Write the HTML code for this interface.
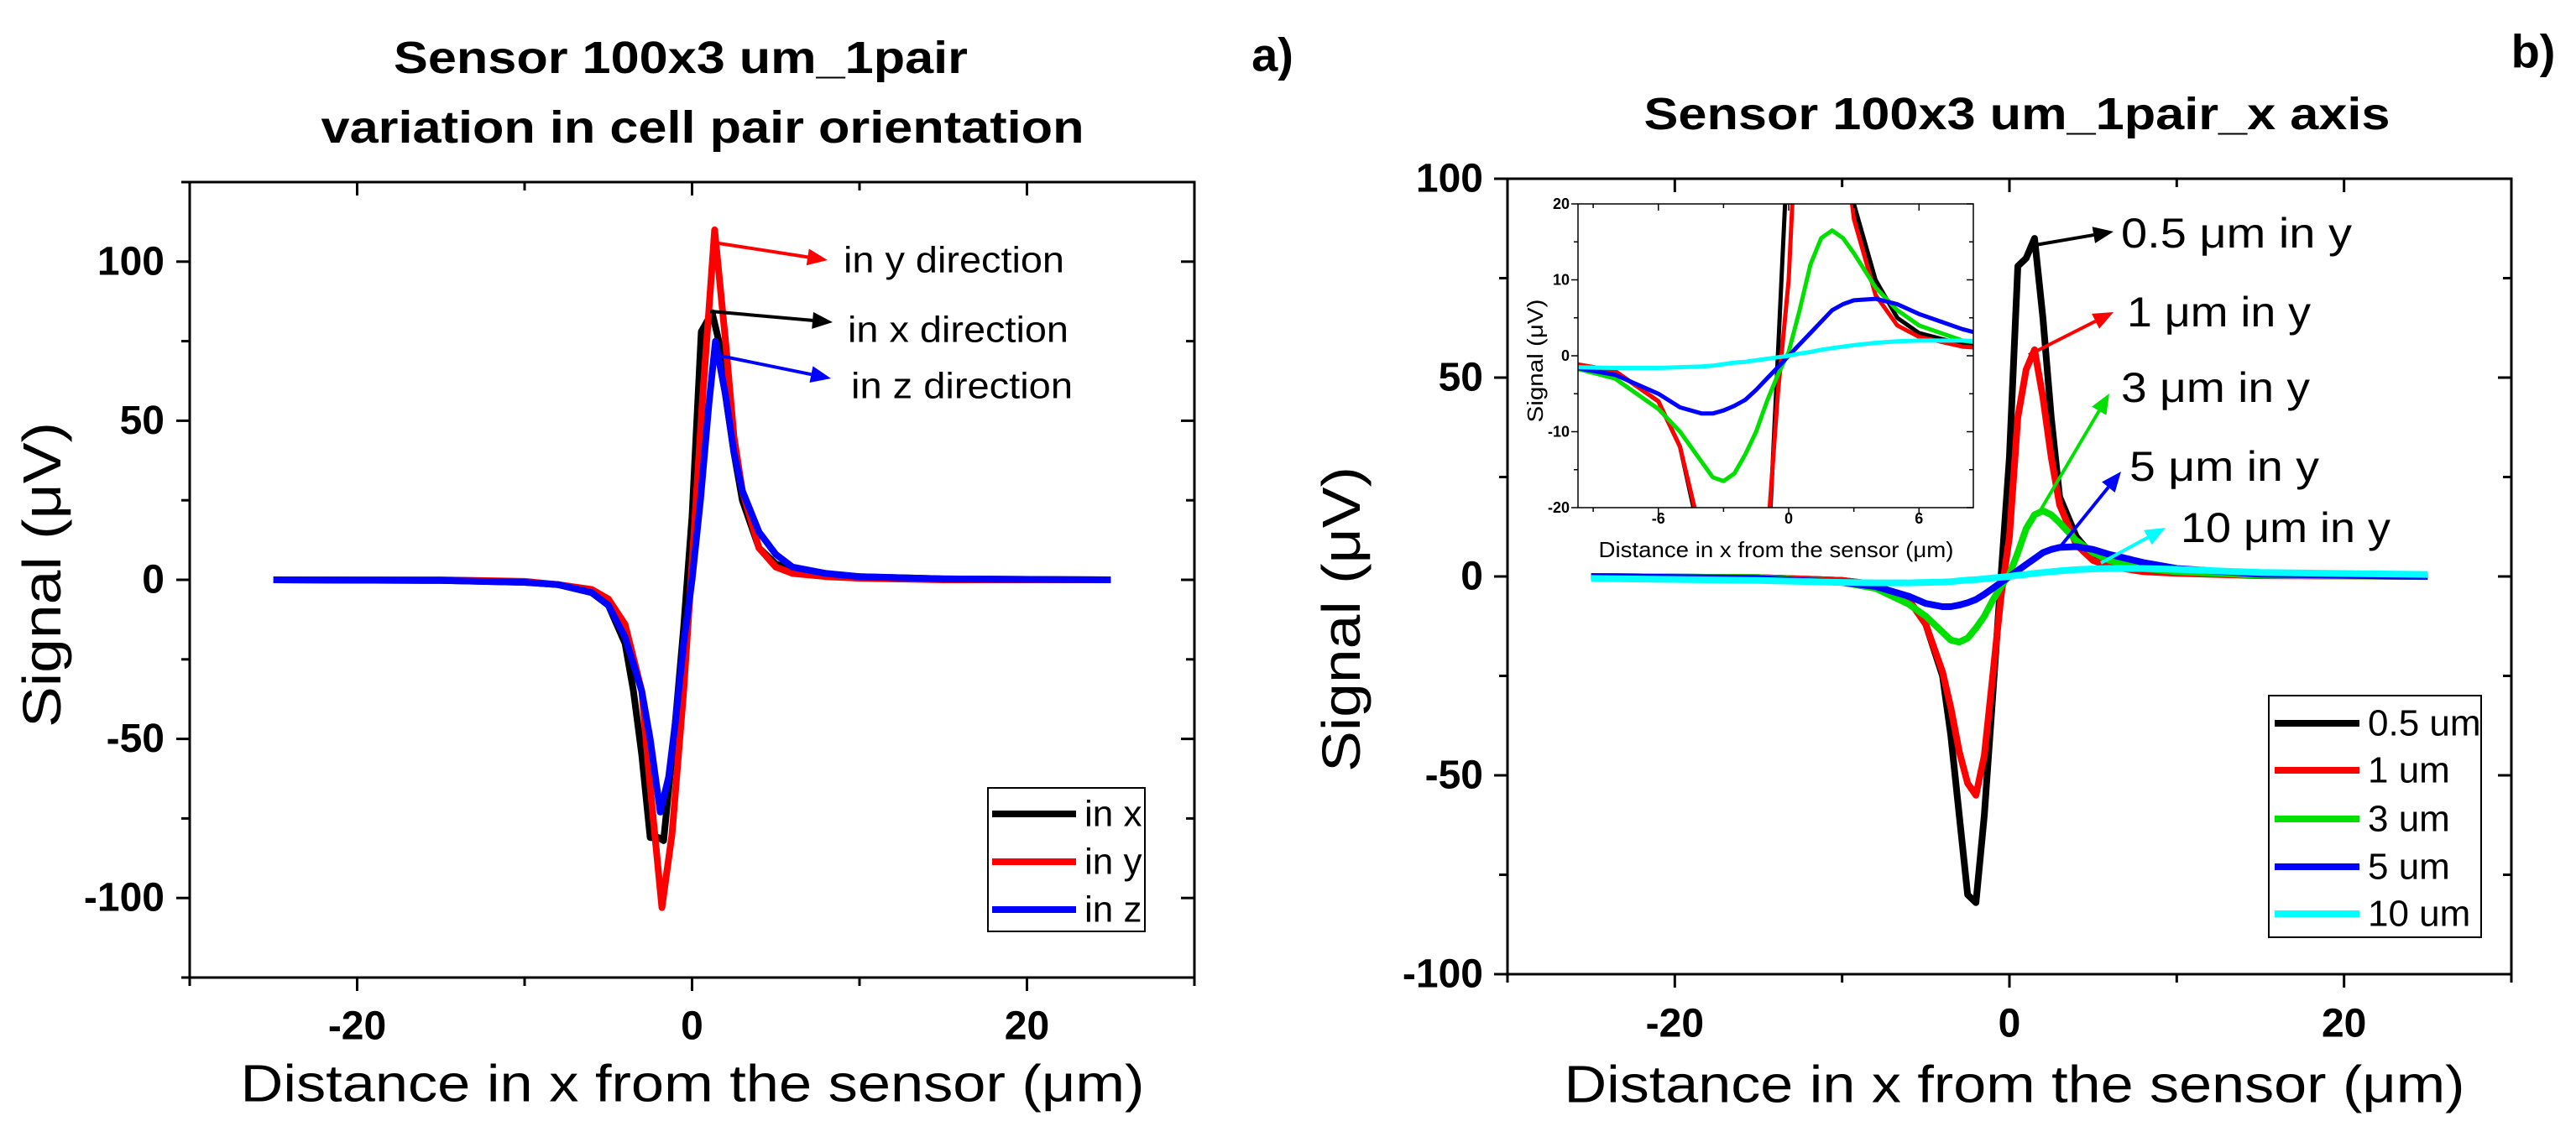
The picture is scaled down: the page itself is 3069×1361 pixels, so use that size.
<!DOCTYPE html>
<html><head><meta charset="utf-8"><style>
html,body{margin:0;padding:0;background:#fff}
svg{display:block}
text{font-family:"Liberation Sans",Arial,sans-serif}
</style></head><body>
<svg id="fig" width="3069" height="1361" viewBox="0 0 3069 1361" xmlns="http://www.w3.org/2000/svg">
<defs>
<clipPath id="clipA"><rect x="226" y="217" width="1197" height="948"/></clipPath>
<clipPath id="clipB"><rect x="1796" y="213" width="1196" height="948"/></clipPath>
<clipPath id="clipI"><rect x="1880" y="243" width="471" height="362"/></clipPath>
</defs>
<g id="panelA"></g>
<g id="panelB"></g>
<g id="inset"></g>
</svg>
<script>
// ---- Panel a data ----
const aX_inx = [-25,-15,-10,-8,-6,-5,-4,-3.5,-3,-2.5,-2,-1.7,-1,-0.5,0,0.55,1.2,1.6,2,2.5,3,4,5,6,8,10,15,25];
const aY_inx = [0,-0.2,-0.8,-1.5,-4,-8,-20,-35,-55,-81,-81,-82,-45,-15,20,78,84,75,58,40,25,10,5,3,1.5,1,0.3,0];
const aX_iny = [-25,-15,-10,-8,-6,-5,-4,-3,-2.5,-1.8,-1.2,-0.5,0,0.6,1.35,2,2.5,3,4,5,6,8,10,15,25];
const aY_iny = [0,0,-0.5,-1.5,-3,-6,-14,-35,-65,-103,-80,-35,5,55,110,75,45,28,10,4,2,1,0.5,0,0];
const aX_inz = [-25,-15,-10,-8,-6,-5,-4,-3,-2.5,-1.9,-1.4,-1,-0.5,0,0.5,1,1.4,2,2.5,3,4,5,6,8,10,15,25];
const aY_inz = [0,-0.2,-0.8,-1.5,-4,-8,-18,-35,-50,-73,-62,-45,-20,0,25,55,75,58,40,28,15,8,4,2,1,0.3,0];
const aSeries = [
  {name:'in-x', label:'in x', color:'#000000', xs:aX_inx, ys:aY_inx},
  {name:'in-y', label:'in y', color:'#ff0000', xs:aX_iny, ys:aY_iny},
  {name:'in-z', label:'in z', color:'#0000ff', xs:aX_inz, ys:aY_inz}
];
const aXTicks = [-20,0,20];
const aYTicks = [-100,-50,0,50,100];

// ---- Panel b data ----
const bX = [-25,-15,-10,-8,-6,-5,-4,-3.5,-3,-2.5,-2,-1.5,-1,-0.5,0,0.5,1,1.5,2,2.5,3,4,5,6,8,10,15,25];
const bY_05 = [0,-0.3,-1,-2,-6,-12,-25,-40,-60,-80,-82,-60,-30,0,30,78,80,85,65,40,20,10,5,3,1.5,1,0.3,0];
const bY_1 = [0,-0.3,-1,-2,-6,-12,-24,-33,-44,-52,-55,-45,-25,-5,10,40,52,57,45,30,18,8,4,2.5,1.2,0.8,0.2,0];
const bY_3 = [0,-0.3,-1.5,-3,-7,-10,-14,-16,-16.5,-15.5,-13,-10,-6,-2.5,0.5,6,12,15.5,16.5,15.5,13.5,9,6,4,2,1.2,0.3,0];
const bY_5 = [0,-0.5,-1.5,-2.5,-5,-6.8,-7.6,-7.6,-7.2,-6.6,-5.8,-4.5,-3,-1.5,0,1.5,3,4.5,6,6.8,7.3,7.5,6.8,5.5,3.5,2,0.6,0];
const bY_10 = [-0.5,-1,-1.5,-1.6,-1.6,-1.5,-1.4,-1.3,-1.1,-0.9,-0.8,-0.6,-0.4,-0.2,0,0.3,0.5,0.8,1,1.2,1.4,1.7,1.9,2,2,1.8,1,0.5];
const bSeries = [
  {name:'0.5-um', label:'0.5 um', color:'#000000', ys:bY_05},
  {name:'1-um', label:'1 um', color:'#ff0000', ys:bY_1},
  {name:'3-um', label:'3 um', color:'#00e000', ys:bY_3},
  {name:'5-um', label:'5 um', color:'#0000ff', ys:bY_5},
  {name:'10-um', label:'10 um', color:'#00ffff', ys:bY_10}
];
const bXTicks = [-20,0,20];
const bYTicks = [-100,-50,0,50,100];
const iXTicks = [-6,0,6];
const iYTicks = [-20,-10,0,10,20];

const NS='http://www.w3.org/2000/svg';
function mk(parent, tag, attrs, txt){
  const e=document.createElementNS(NS,tag);
  for(const k in attrs) e.setAttribute(k,attrs[k]);
  if(txt!==undefined) e.textContent=txt;
  parent.appendChild(e); return e;
}
function scale(d0,d1,r0,r1){return v=>r0+(v-d0)*(r1-r0)/(d1-d0);}

function drawAxes(g, L,T,R,B, sx, sy, xt, yt, xMinor, yMinor, fs, maj, min, sw, xLabY, yLabX){
  const fr=mk(g,'rect',{x:L,y:T,width:R-L,height:B-T,fill:'none',stroke:'#000','stroke-width':sw});
  
  
  xt.forEach(v=>{
    const x=sx(v);
    mk(g,'line',{x1:x,y1:B,x2:x,y2:B+maj,stroke:'#000','stroke-width':sw});
    mk(g,'line',{x1:x,y1:T,x2:x,y2:T+maj,stroke:'#000','stroke-width':sw});
    const t=mk(g,'text',{x:x,y:xLabY,'text-anchor':'middle','font-size':fs,'font-weight':'bold','dominant-baseline':'central'},String(v));
    
    
  });
  xMinor.forEach(v=>{
    const x=sx(v);
    mk(g,'line',{x1:x,y1:B,x2:x,y2:B+min,stroke:'#000','stroke-width':sw});
    mk(g,'line',{x1:x,y1:T,x2:x,y2:T+min,stroke:'#000','stroke-width':sw});
  });
  yt.forEach(v=>{
    const y=sy(v);
    mk(g,'line',{x1:L-maj,y1:y,x2:L,y2:y,stroke:'#000','stroke-width':sw});
    mk(g,'line',{x1:R-maj,y1:y,x2:R,y2:y,stroke:'#000','stroke-width':sw});
    const t=mk(g,'text',{x:yLabX,y:y,'text-anchor':'end','font-size':fs,'font-weight':'bold','dominant-baseline':'central'},String(v));
    
    
  });
  yMinor.forEach(v=>{
    const y=sy(v);
    mk(g,'line',{x1:L-min,y1:y,x2:L,y2:y,stroke:'#000','stroke-width':sw});
    mk(g,'line',{x1:R-min,y1:y,x2:R,y2:y,stroke:'#000','stroke-width':sw});
  });
}
function pathFor(xs,ys,sx,sy){return xs.map((x,i)=>(i?'L':'M')+sx(x).toFixed(1)+','+sy(ys[i]).toFixed(1)).join(' ');}
function arrow(g,x1,y1,x2,y2,c,w){
  const a=Math.atan2(y2-y1,x2-x1), h=24, hw=10;
  const bx=x2-h*Math.cos(a), by=y2-h*Math.sin(a);
  mk(g,'line',{x1:x1,y1:y1,x2:bx,y2:by,stroke:c,'stroke-width':w});
  mk(g,'polygon',{points:`${x2},${y2} ${bx-hw*Math.sin(a)},${by+hw*Math.cos(a)} ${bx+hw*Math.sin(a)},${by-hw*Math.cos(a)}`,fill:c});
}

// ---------- Panel a ----------
(function(){
  const g=document.getElementById('panelA');
  const L=226,T=217,R=1423,B=1165;
  const sx=scale(-30,30,L,R), sy=scale(-125,125,B,T);
  drawAxes(g,L,T,R,B,sx,sy,aXTicks,aYTicks,[-30,-10,10,30],[-125,-75,-25,25,75,125],48,16,10,3,1223,196);
  const cg=mk(g,'g',{'clip-path':'url(#clipA)'});
  aSeries.forEach(s=>{
    const p=mk(cg,'path',{d:pathFor(s.xs,s.ys,sx,sy),fill:'none',stroke:s.color,'stroke-width':8,'stroke-linejoin':'round'});
    
    
  });
  let t;
  t=mk(g,'text',{x:811,y:69,'text-anchor':'middle','font-size':54,'font-weight':'bold','dominant-baseline':'central',textLength:684,lengthAdjust:'spacingAndGlyphs'},'Sensor 100x3 um_1pair');
   
  t=mk(g,'text',{x:837,y:152,'text-anchor':'middle','font-size':54,'font-weight':'bold','dominant-baseline':'central',textLength:909,lengthAdjust:'spacingAndGlyphs'},'variation in cell pair orientation');
   
  t=mk(g,'text',{x:1516,y:65,'text-anchor':'middle','font-size':56,'font-weight':'bold','dominant-baseline':'central'},'a)');
   
  t=mk(g,'text',{x:825,y:1292,'text-anchor':'middle','font-size':62,'dominant-baseline':'central',textLength:1077,lengthAdjust:'spacingAndGlyphs'},'Distance in x from the sensor (μm)');
   
  t=mk(g,'text',{x:50,y:685,'text-anchor':'middle','font-size':64,'dominant-baseline':'central',transform:'rotate(-90 50 685)',textLength:364,lengthAdjust:'spacingAndGlyphs'},'Signal (μV)');
   
  const ann=[['#ff0000',850,289,986,310,1005,310,263,'in y direction','annotation-in-y'],
             ['#000000',846,371,992,384,1010,393,263,'in x direction','annotation-in-x'],
             ['#0000ff',848,422,990,451,1014,460,264,'in z direction','annotation-in-z']];
  ann.forEach(a=>{
    arrow(g,a[1],a[2],a[3],a[4],a[0],4);
    const tt=mk(g,'text',{x:a[5],y:a[6],'font-size':44,'dominant-baseline':'central',textLength:a[7],lengthAdjust:'spacingAndGlyphs'},a[8]);
     
  });
  const lg=mk(g,'g',{});
   
  mk(lg,'rect',{x:1177,y:939,width:187,height:171,fill:'#fff',stroke:'#000','stroke-width':2});
  const ly=[970,1027,1084];
  aSeries.forEach((s,i)=>{
    mk(lg,'line',{x1:1182,y1:ly[i],x2:1282,y2:ly[i],stroke:s.color,'stroke-width':8});
    const tt=mk(lg,'text',{x:1292,y:ly[i],'font-size':44,'dominant-baseline':'central'},s.label);
     
  });
})();

// ---------- Panel b ----------
(function(){
  const g=document.getElementById('panelB');
  const L=1796,T=213,R=2992,B=1161;
  const sx=scale(-30,30,L,R), sy=scale(-100,100,B,T);
  drawAxes(g,L,T,R,B,sx,sy,bXTicks,bYTicks,[-30,-10,10,30],[-75,-25,25,75],48,16,10,3,1220,1767);
  const cg=mk(g,'g',{'clip-path':'url(#clipB)'});
  bSeries.forEach(s=>{
    const p=mk(cg,'path',{d:pathFor(bX,s.ys,sx,sy),fill:'none',stroke:s.color,'stroke-width':8,'stroke-linejoin':'round'});
    
    
  });
  let t;
  t=mk(g,'text',{x:2403,y:136,'text-anchor':'middle','font-size':54,'font-weight':'bold','dominant-baseline':'central',textLength:889,lengthAdjust:'spacingAndGlyphs'},'Sensor 100x3 um_1pair_x axis');
   
  t=mk(g,'text',{x:3018,y:61,'text-anchor':'middle','font-size':56,'font-weight':'bold','dominant-baseline':'central'},'b)');
   
  t=mk(g,'text',{x:2400,y:1293,'text-anchor':'middle','font-size':62,'dominant-baseline':'central',textLength:1073,lengthAdjust:'spacingAndGlyphs'},'Distance in x from the sensor (μm)');
   
  t=mk(g,'text',{x:1598,y:738,'text-anchor':'middle','font-size':64,'dominant-baseline':'central',transform:'rotate(-90 1598 738)',textLength:364,lengthAdjust:'spacingAndGlyphs'},'Signal (μV)');
   
  const ann=[['#000000',2419,293,2518,276,2527,278,275,'0.5 μm in y','annotation-0.5um'],
             ['#ff0000',2417,423,2518,372,2534,372,219,'1 μm in y','annotation-1um'],
             ['#00e000',2431,608,2513,469,2527,462,225,'3 μm in y','annotation-3um'],
             ['#0000ff',2455,651,2527,562,2537,556,226,'5 μm in y','annotation-5um'],
             ['#00ffff',2503,671,2580,629,2598,629,250,'10 μm in y','annotation-10um']];
  ann.forEach(a=>{
    arrow(g,a[1],a[2],a[3],a[4],a[0],4);
    const tt=mk(g,'text',{x:a[5],y:a[6],'font-size':50,'dominant-baseline':'central',textLength:a[7],lengthAdjust:'spacingAndGlyphs'},a[8]);
     
  });
  const lg=mk(g,'g',{});
   
  mk(lg,'rect',{x:2703,y:829,width:253,height:288,fill:'#fff',stroke:'#000','stroke-width':2});
  const ly=[862,918,976,1033,1089];
  bSeries.forEach((s,i)=>{
    mk(lg,'line',{x1:2710,y1:ly[i],x2:2811,y2:ly[i],stroke:s.color,'stroke-width':8});
    const tt=mk(lg,'text',{x:2821,y:ly[i],'font-size':44,'dominant-baseline':'central'},s.label);
     
  });
})();

// ---------- Inset ----------
(function(){
  const g=document.getElementById('inset');
  const L=1880,T=243,R=2351,B=605;
  mk(g,'rect',{x:L,y:T,width:R-L,height:B-T,fill:'#fff'});
  const sx=scale(-9.7,8.5,L,R), sy=scale(-20,20,B,T);
  const cg=mk(g,'g',{'clip-path':'url(#clipI)'});
  bSeries.forEach(s=>{
    const p=mk(cg,'path',{d:pathFor(bX,s.ys,sx,sy),fill:'none',stroke:s.color,'stroke-width':5,'stroke-linejoin':'round'});
    
    
  });
  drawAxes(g,L,T,R,B,sx,sy,iXTicks,iYTicks,[-9,-3,3],[-15,-5,5,15],18,8,5,1.5,618,1870);
  let t=mk(g,'text',{x:2116,y:655,'text-anchor':'middle','font-size':26,'dominant-baseline':'central',textLength:423,lengthAdjust:'spacingAndGlyphs'},'Distance in x from the sensor (μm)');
   
  t=mk(g,'text',{x:1829,y:430,'text-anchor':'middle','font-size':26,'dominant-baseline':'central',transform:'rotate(-90 1829 430)',textLength:147,lengthAdjust:'spacingAndGlyphs'},'Signal (μV)');
   
})();
</script>
</body></html>
